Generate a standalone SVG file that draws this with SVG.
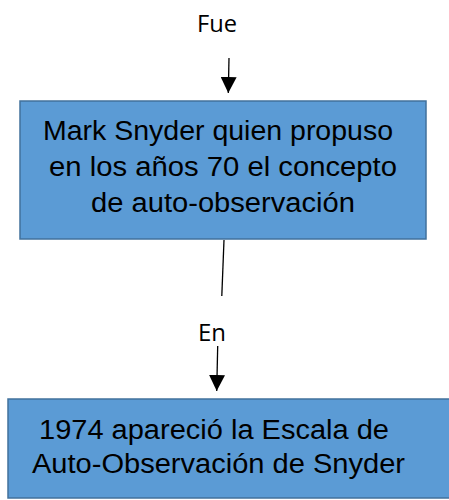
<svg xmlns="http://www.w3.org/2000/svg" width="449" height="500" viewBox="0 0 449 500">
<defs>
<style>
.box{fill:#5B9BD5;stroke:#41719C;stroke-width:1.5}
.bt{font-family:"Liberation Sans",Arial,sans-serif;font-size:27px;fill:#000}
.lbl{font-family:"Open Sans","DejaVu Sans",sans-serif;font-size:24px;fill:#000}
.con{stroke:#000;stroke-width:1.3;fill:none}
</style>
<marker id="ah2" viewBox="0 0 16 16" refX="16" refY="8" markerWidth="16" markerHeight="16" markerUnits="userSpaceOnUse" orient="auto">
<path d="M0,0 L16,8 L0,16 Z" fill="#000"/>
</marker>
</defs>
<g id="lbl-fue"><text class="lbl" x="217" y="32" text-anchor="middle" textLength="40" lengthAdjust="spacingAndGlyphs">Fue</text></g>
<g id="node1">
<rect class="box" x="20" y="101" width="406" height="138"/>
<text class="bt" x="218" y="140" text-anchor="middle" textLength="350" lengthAdjust="spacingAndGlyphs">Mark Snyder quien propuso</text>
<text class="bt" x="223" y="176" text-anchor="middle" textLength="348" lengthAdjust="spacingAndGlyphs">en los años 70 el concepto</text>
<text class="bt" x="223" y="212" text-anchor="middle" textLength="264" lengthAdjust="spacingAndGlyphs">de auto-observación</text>
</g>
<g id="lbl-en"><text class="lbl" x="212" y="341" text-anchor="middle" textLength="28" lengthAdjust="spacingAndGlyphs">En</text></g>
<g id="node2">
<rect class="box" x="8" y="399" width="450" height="99"/>
<text class="bt" x="214" y="439" text-anchor="middle" textLength="350" lengthAdjust="spacingAndGlyphs">1974 apareció la Escala de</text>
<text class="bt" x="218.5" y="473" text-anchor="middle" textLength="373" lengthAdjust="spacingAndGlyphs">Auto-Observación de Snyder</text>
</g>
<g id="connectors">
<line class="con" x1="229" y1="58" x2="228.3" y2="93" marker-end="url(#ah2)"/>
<line class="con" x1="224" y1="240" x2="221.8" y2="296"/>
<line class="con" x1="217.7" y1="346" x2="216.7" y2="391" marker-end="url(#ah2)"/>
</g>
</svg>
